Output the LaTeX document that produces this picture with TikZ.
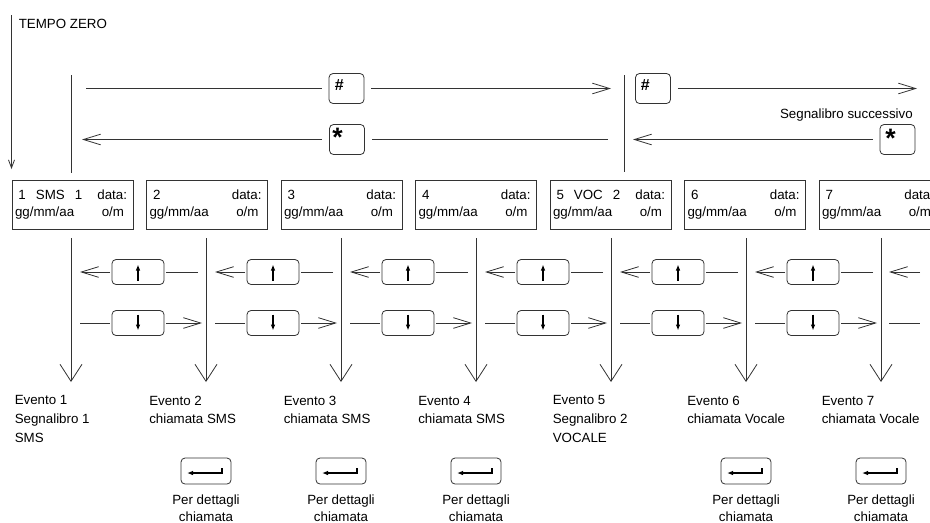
\documentclass[tikz,border=0pt]{standalone}
\usepackage{fontspec}
\setmainfont{Liberation Sans}
\usetikzlibrary{arrows.meta}
\newdimen\pxu
\pxu=0.75pt
\newcommand\evtext[1]{\makebox[121\pxu][l]{\hspace{6.5\pxu}#1\hfill data:\hspace{6\pxu}}\\\makebox[121\pxu][l]{\hspace{3\pxu}gg/mm/aa\hfill o/m\hspace{9\pxu}}}
\newcommand\gp{\hspace{10\pxu}}
\begin{document}
\begin{tikzpicture}[x=0.75pt,y=-0.75pt,
  ln/.style={draw=black!80, line width=0.6pt},
  tipm/.style={-{Straight Barb[length=13pt,width=8pt]}},
  tipb/.style={-{Straight Barb[length=12.75pt,width=16.5pt]}},
  tips/.style={-{Straight Barb[length=6pt,width=4.5pt]}},
  txt/.style={font=\fontsize{10pt}{12.5pt}\selectfont, inner sep=0pt},
  keybox/.style={ln, rounded corners=3pt, minimum width=35\pxu, minimum height=30\pxu, inner sep=0pt, outer xsep=5.5pt},
  glyph/.style={inner sep=0pt, font=\fontsize{12pt}{12pt}\selectfont\bfseries, anchor=base west},
  starg/.style={inner sep=0pt, font=\fontsize{20pt}{20pt}\selectfont\bfseries, anchor=base west},
  evbox/.style={ln, minimum width=121\pxu, minimum height=49\pxu, inner sep=0pt, font=\fontsize{10pt}{12.5pt}\selectfont, align=left},
  navbox/.style={ln, rounded corners=3pt, minimum width=52\pxu, minimum height=25\pxu, inner sep=0pt, outer xsep=1.5pt},
  navarrow/.style={draw=black, line width=1pt, -{Latex[length=4.5pt,width=3.5pt]}},
  entbox/.style={ln, rounded corners=3pt, minimum width=50\pxu, minimum height=26\pxu, inner sep=0pt},
  entarrow/.style={draw=black, line width=1pt, -{Latex[length=4.5pt,width=3.5pt]}},
  evtxt/.style={font=\fontsize{10pt}{14pt}\selectfont, inner sep=0pt, align=left, anchor=base west},
  captxt/.style={font=\fontsize{10pt}{12.4pt}\selectfont, inner sep=0pt, align=center, anchor=base},
]
\useasboundingbox (0,0) rectangle (930,522);
\clip (0,0) rectangle (930,522);

% TEMPO ZERO
\node[txt, anchor=base west] (tz) at (18.5,28) {TEMPO ZERO};
\coordinate (tza) at (11.5,15);
\coordinate (tzb) at (11.5,169);
\draw[ln,tips] (tza) -- (tzb);

% top verticals
\coordinate (v1a) at (71,75);  \coordinate (v1b) at (71,173);
\coordinate (v2a) at (624,75); \coordinate (v2b) at (624,172);
\draw[ln] (v1a) -- (v1b);
\draw[ln] (v2a) -- (v2b);

% key boxes
\node[keybox] (h1) at (346.5,88.5) {};
\node[keybox] (s1) at (347,139.5) {};
\node[keybox] (h2) at (653,88.5) {};
\node[keybox] (s2) at (897.5,139.5) {};
\node[glyph] (h1g) at (334.5,90) {\#};
\node[glyph] (h2g) at (640.5,90) {\#};
\node[starg] (s1g) at (332,146.5) {*};
\node[starg] (s2g) at (885,147) {*};

\coordinate (r1a) at (86,88.5);  \coordinate (r1b) at (611,88.5);
\coordinate (r2a) at (82,139.5); \coordinate (r2b) at (608,139.5);
\coordinate (r3b) at (917,88.5);
\coordinate (r4b) at (633,139.5);
\draw[ln] (r1a) -- (h1);
\draw[ln,tipm] (h1) -- (r1b);
\draw[ln,tipm] (s1) -- (r2a);
\draw[ln] (r2b) -- (s1);
\draw[ln,tipm] (h2) -- (r3b);
\draw[ln,tipm] (s2) -- (r4b);
\node[txt, anchor=base east] (ss) at (913,118) {Segnalibro successivo};

% event boxes
\node[evbox] (eb1) at (72.5,204.5) {\evtext{1\gp SMS\gp 1}};
\node[evbox] (eb2) at (207,204.5) {\evtext{2}};
\node[evbox] (eb3) at (341.5,204.5) {\evtext{3}};
\node[evbox] (eb4) at (476,204.5) {\evtext{4}};
\node[evbox] (eb5) at (610.5,204.5) {\evtext{5\gp VOC\gp 2}};
\node[evbox] (eb6) at (745,204.5) {\evtext{6}};
\node[evbox] (eb7) at (879.5,204.5) {\evtext{7}};

% verticals with big arrows
\foreach \k in {0,...,6}{
  \pgfmathsetmacro\xa{71+135*\k}
  \coordinate (vt\k) at (\xa,238);
  \coordinate (vb\k) at (\xa,382);
  \draw[ln,tipb] (vt\k) -- (vb\k);
}

% navigation rows
\foreach \k in {0,...,5}{
  \pgfmathsetmacro\xa{71+135*\k}
  \node[navbox] (u\k) at (\xa+67,272) {};
  \coordinate (ul\k) at (\xa+9,272);
  \coordinate (ur\k) at (\xa+127,272);
  \draw[ln,tipm] (u\k) -- (ul\k);
  \draw[ln] (ur\k) -- (u\k);
  \draw[navarrow] (\xa+67,280.5) -- (\xa+67,264.5);
  \node[navbox] (d\k) at (\xa+67,323) {};
  \coordinate (dl\k) at (\xa+9,323);
  \coordinate (dr\k) at (\xa+131,323);
  \draw[ln] (dl\k) -- (d\k);
  \draw[ln,tipm] (d\k) -- (dr\k);
  \draw[navarrow] (\xa+67,314.5) -- (\xa+67,330.5);
}
\coordinate (ul6) at (889,272); \coordinate (ur6) at (920,272);
\coordinate (dl6) at (889,323); \coordinate (dr6) at (920,323);
\draw[ln,tipm] (ur6) -- (ul6);
\draw[ln] (dl6) -- (dr6);

% event texts (base anchor = last line's baseline)
\node[evtxt] (ev1) at (14.5,442.3) {Evento 1\\Segnalibro 1\\SMS};
\node[evtxt] (ev2) at (149,423.7) {Evento 2\\chiamata SMS};
\node[evtxt] (ev3) at (283.5,423.7) {Evento 3\\chiamata SMS};
\node[evtxt] (ev4) at (418,423.7) {Evento 4\\chiamata SMS};
\node[evtxt] (ev5) at (552.5,442.3) {Evento 5\\Segnalibro 2\\VOCALE};
\node[evtxt] (ev6) at (687,423.7) {Evento 6\\chiamata Vocale};
\node[evtxt] (ev7) at (821.5,423.7) {Evento 7\\chiamata Vocale};

% enter keys
\foreach \k in {1,2,3,5,6}{
  \pgfmathsetmacro\xa{71+135*\k}
  \node[entbox] (en\k) at (\xa,471) {};
  \draw[entarrow] (\xa+16,468) -- (\xa+16,473) -- (\xa-19,473);
  \node[captxt] (cp\k) at (\xa,521) {Per dettagli\\chiamata};
}
\end{tikzpicture}
\end{document}
